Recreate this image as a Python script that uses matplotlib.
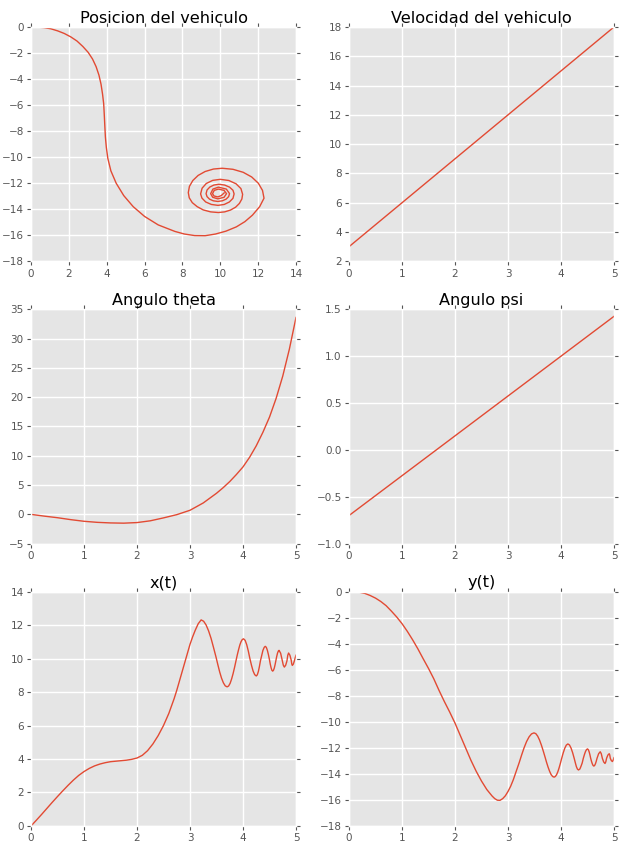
import matplotlib
matplotlib.use("Agg")
import matplotlib.pyplot as plt

# valores
t_ends = [0.0, 5.0]
vel_vals = [3.0, 18.0]
psi_vals = [-0.7, 1.425]

t_theta = [0.0, 0.25, 0.5, 0.75, 1.0, 1.25, 1.5, 1.75, 2.0, 2.25, 2.5, 2.75,
           3.0, 3.25, 3.5, 3.625, 3.75, 3.875, 4.0, 4.125, 4.25, 4.375, 4.5,
           4.625, 4.75, 4.875, 5.0]
theta_vals = [0.0, -0.3, -0.57, -0.9, -1.18, -1.36, -1.46, -1.5, -1.4, -1.1,
              -0.6, -0.05, 0.7, 1.95, 3.6, 4.55, 5.6, 6.8, 8.1, 9.75, 11.7,
              14.0, 16.6, 19.8, 23.6, 28.2, 33.6]

t_pos = [0.0, 0.1, 0.2, 0.3, 0.4, 0.5, 0.6, 0.7, 0.8, 0.9,
         1.0, 1.1, 1.2, 1.3, 1.4, 1.5, 1.6, 1.7, 1.8, 1.9,
         2.0, 2.1, 2.2, 2.3, 2.4, 2.5, 2.6, 2.7, 2.75, 2.8,
         2.85, 2.9, 2.95, 3.0, 3.05, 3.1, 3.155, 3.21,
         3.257, 3.303, 3.35, 3.397, 3.443, 3.49,
         3.525, 3.56, 3.595, 3.63, 3.665, 3.7,
         3.728, 3.757, 3.785, 3.813, 3.842, 3.87,
         3.893, 3.917, 3.94, 3.963, 3.987, 4.01,
         4.04, 4.07, 4.1, 4.13, 4.16, 4.19, 4.22, 4.25,
         4.27, 4.29, 4.31, 4.33, 4.355, 4.375, 4.4, 4.42,
         4.44, 4.46, 4.48, 4.5, 4.515, 4.53, 4.545, 4.56,
         4.575, 4.59, 4.605, 4.62, 4.635, 4.65, 4.665, 4.68,
         4.71, 4.74, 4.76, 4.78, 4.805, 4.83, 4.845, 4.86,
         4.885, 4.91, 4.92, 4.93, 4.95, 4.97, 4.985, 5.0]
x_vals = [0.0, 0.34, 0.69, 1.05, 1.41, 1.76, 2.1, 2.43, 2.74, 3.02,
          3.25, 3.44, 3.59, 3.7, 3.78, 3.84, 3.87, 3.9, 3.93, 3.98,
          4.06, 4.22, 4.5, 4.9, 5.4, 6.0, 6.72, 7.6, 8.1, 8.65,
          9.2, 9.75, 10.3, 10.85, 11.3, 11.7, 12.08, 12.31,
          12.23, 12.01, 11.66, 11.21, 10.67, 10.1,
          9.64, 9.2, 8.83, 8.55, 8.37, 8.31,
          8.36, 8.52, 8.78, 9.1, 9.49, 9.9,
          10.23, 10.54, 10.81, 11.01, 11.14, 11.18,
          11.09, 10.83, 10.45, 10.0, 9.6, 9.26, 9.04, 8.96,
          9.03, 9.23, 9.53, 9.88, 10.21, 10.48, 10.67, 10.73,
          10.67, 10.49, 10.23, 9.92, 9.66, 9.45, 9.3, 9.25,
          9.3, 9.43, 9.63, 9.87, 10.11, 10.31, 10.44, 10.49,
          10.32, 9.9, 9.61, 9.49, 9.6, 9.87, 10.2, 10.33,
          10.2, 9.9, 9.68, 9.59, 9.67, 9.87, 10.05, 10.2]
y_vals = [0.0, -0.01, -0.05, -0.14, -0.3, -0.5, -0.76, -1.08, -1.5, -1.95,
          -2.46, -3.05, -3.7, -4.4, -5.16, -5.9, -6.7, -7.6, -8.45, -9.25,
          -10.1, -11.05, -12.0, -12.95, -13.8, -14.55, -15.2, -15.7, -15.9, -16.02,
          -16.03, -15.9, -15.68, -15.35, -14.95, -14.45, -13.8, -13.15,
          -12.55, -12.0, -11.52, -11.16, -10.93, -10.85,
          -10.91, -11.1, -11.4, -11.79, -12.24, -12.72,
          -13.12, -13.49, -13.8, -14.05, -14.2, -14.25,
          -14.2, -14.06, -13.84, -13.55, -13.21, -12.85,
          -12.41, -12.04, -11.79, -11.7, -11.78, -12.02, -12.38, -12.82,
          -13.14, -13.44, -13.63, -13.7, -13.63, -13.44, -13.16, -12.82,
          -12.54, -12.3, -12.14, -12.08, -12.14, -12.29, -12.52, -12.8,
          -13.03, -13.22, -13.35, -13.4, -13.35, -13.22, -13.03, -12.8,
          -12.45, -12.3, -12.45, -12.8, -13.08, -13.2, -13.08, -12.8,
          -12.55, -12.45, -12.55, -12.8, -12.98, -13.05, -12.95, -12.75]

line_color = "#E24A33"
tick_color = "#555555"

fig, axes = plt.subplots(3, 2, figsize=(6.25, 8.51), dpi=100)
plt.subplots_adjust(left=0.0496, right=0.9824, bottom=0.0294, top=0.9683,
                    wspace=0.2, hspace=0.2045)

def style(ax, title, xlim, ylim):
    ax.set_facecolor("#E5E5E5")
    ax.set_axisbelow(True)
    ax.grid(True, color="white", linewidth=1.0, linestyle="-")
    for sp in ax.spines.values():
        sp.set_color("white")
        sp.set_linewidth(1.0)
    ax.tick_params(direction="out", top=True, right=True, length=3.2,
                   width=0.8, color=tick_color, labelcolor=tick_color,
                   labelsize=7.5, pad=2)
    ax.set_xlim(*xlim)
    ax.set_ylim(*ylim)
    ax.set_title(title, fontsize=11.6, pad=3)

ax = axes[0, 0]
ax.plot(x_vals, y_vals, color=line_color, linewidth=1.0)
style(ax, "Posicion del vehiculo", (0, 14), (-18, 0))

ax = axes[0, 1]
ax.plot(t_ends, vel_vals, color=line_color, linewidth=1.0)
style(ax, "Velocidad del vehiculo", (0, 5), (2, 18))

ax = axes[1, 0]
ax.plot(t_theta, theta_vals, color=line_color, linewidth=1.0)
style(ax, "Angulo theta", (0, 5), (-5, 35))

ax = axes[1, 1]
ax.plot(t_ends, psi_vals, color=line_color, linewidth=1.0)
style(ax, "Angulo psi", (0, 5), (-1.0, 1.5))

ax = axes[2, 0]
ax.plot(t_pos, x_vals, color=line_color, linewidth=1.0)
style(ax, "x(t)", (0, 5), (0, 14))

ax = axes[2, 1]
ax.plot(t_pos, y_vals, color=line_color, linewidth=1.0)
style(ax, "y(t)", (0, 5), (-18, 0))

fig.savefig("out.png", dpi=100)
